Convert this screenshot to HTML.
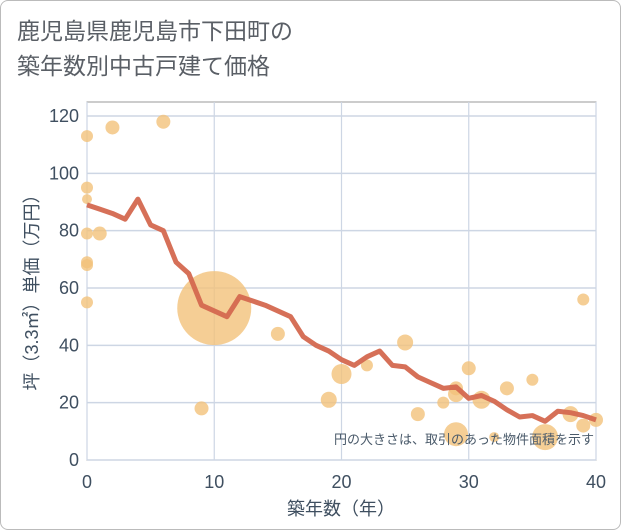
<!DOCTYPE html>
<html><head><meta charset="utf-8"><style>
body{margin:0;background:#fff}
#card{position:absolute;left:0;top:0;width:619px;height:528px;border:1px solid #bbb;border-radius:8px;background:#fff}
#title{position:absolute;left:17px;top:14px;font:23px "Liberation Sans","Noto Sans CJK JP",sans-serif;color:#5a5f66;line-height:35px}
</style></head><body>
<div id="card"></div>
<div id="title">鹿児島県鹿児島市下田町の<br>築年数別中古戸建て価格</div>
<svg id="c" width="621" height="530" style="position:absolute;left:0;top:0" font-family="Liberation Sans, Noto Sans CJK JP, sans-serif"></svg>
<script>
const xTicks=[0,10,20,30,40];
const yTicks=[0,20,40,60,80,100,120];
const lineX=[0,1,2,3,4,5,6,7,8,9,10,11,12,13,14,15,16,17,18,19,20,21,22,23,24,25,26,27,28,29,30,31,32,33,34,35,36,37,38,39,40];
const lineY=[89,87.5,86,84,91,82,80,69,65,54,52,50,57,55.5,54,52,50,43,40,38,35,33,36,38,33,32.5,29,27,25,25.5,21.5,22.5,20.5,17.5,15,15.5,13.5,17,16.5,15.5,14];
const ptX=[0,2,6,0,0,0,1,0,0,0,10,9,15,19,20,22,25,26,28,29,29,29,30,31,32,33,35,36,38,39,39,40];
const ptY=[113,116,118,95,91,79,79,69,68,55,53,18,44,21,30,33,41,16,20,25,23,9,32,21,8,25,28,8,16,12,56,14];
const ptR=[6,7,7,6,5,6,7,6,6,6,37,7,7,8,10,6,8,7,6,7,8,12,7,9,5,7,6,13,8,7,6,7];
const L=87,R=596,T=116,B=460;
const sx=v=>L+(v-0)/40*(R-L), sy=v=>B-v/120*(B-T);
const svg=document.getElementById('c'),NS='http://www.w3.org/2000/svg';
function mk(t,a,p){const e=document.createElementNS(NS,t);for(const k in a)e.setAttribute(k,a[k]);(p||svg).appendChild(e);return e;}
const plot=mk('rect',{x:L,y:102,width:R-L,height:B-102,fill:'#fff',stroke:'#999','stroke-width':1});


yTicks.forEach(v=>{const g=mk('line',{x1:L,x2:R,y1:sy(v),y2:sy(v),stroke:'#cdd6e4','stroke-width':1.5});


const t=mk('text',{x:L-8,y:sy(v)+6,'text-anchor':'end','font-size':18,fill:'#3f4f60'});t.textContent=v;

});
xTicks.forEach(v=>{const g=mk('line',{x1:sx(v),x2:sx(v),y1:102,y2:B,stroke:'#cdd6e4','stroke-width':1.2});


const t=mk('text',{x:sx(v),y:488,'text-anchor':'middle','font-size':18,fill:'#3f4f60'});t.textContent=v;

});
ptX.forEach((x,i)=>{const c=mk('circle',{cx:sx(x),cy:sy(ptY[i]),r:ptR[i],fill:'#f2c27a','fill-opacity':0.8});

});
const pl=mk('polyline',{points:lineX.map((x,i)=>sx(x)+','+sy(lineY[i])).join(' '),fill:'none',stroke:'#d4684f','stroke-width':5,'stroke-linejoin':'round','stroke-opacity':0.95});


const note=mk('text',{x:594,y:444,'text-anchor':'end','font-size':13,fill:'#4a5a6a'});note.textContent='円の大きさは、取引のあった物件面積を示す';


const xt=mk('text',{x:341,y:515,'text-anchor':'middle','font-size':18,fill:'#3f4f60'});xt.textContent='築年数（年）';


const yt=mk('text',{x:0,y:0,'text-anchor':'middle','font-size':18,fill:'#3f4f60',transform:'translate(38,288) rotate(-90)'});yt.textContent='坪（3.3㎡）単価（万円）';


</script>
</body></html>
